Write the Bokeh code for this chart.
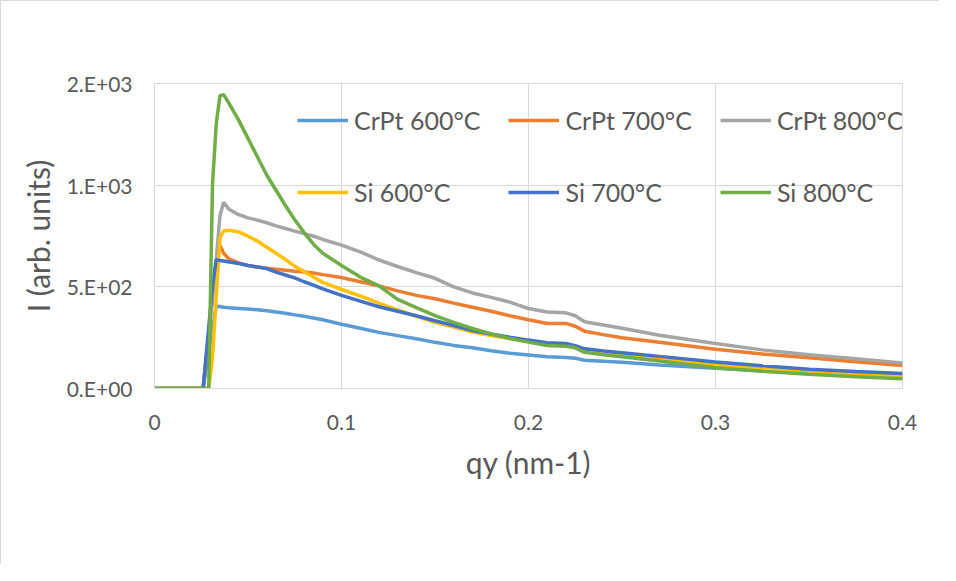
from bokeh.plotting import figure
from bokeh.models import FixedTicker, Legend, LegendItem, Range1d
from bokeh.embed import file_html
from bokeh.resources import INLINE

# ---- data ----
q = [0, 0.01, 0.02, 0.026, 0.029, 0.031, 0.033, 0.035, 0.037, 0.04,
     0.045, 0.05, 0.055, 0.06, 0.065, 0.07, 0.075, 0.08, 0.085, 0.09,
     0.1, 0.11, 0.12, 0.13, 0.14, 0.15, 0.16, 0.17, 0.18, 0.19,
     0.2, 0.21, 0.22, 0.225, 0.23, 0.24, 0.25, 0.27, 0.3, 0.325,
     0.35, 0.375, 0.4]

crpt_600 = [0, 0, 0, 0, 177, 296, 405, 403, 400, 397,
            394, 391, 387, 382, 376, 370, 362, 355, 347, 338,
            316, 296, 276, 260, 245, 227, 212, 200, 186, 173,
            165, 156, 152, 149, 139, 134, 129, 116, 100, 87,
            75, 64, 54]
crpt_700 = [0, 0, 0, 0, 265, 443, 620, 703, 665, 636,
            618, 605, 597, 592, 586, 582, 577, 573, 568, 560,
            546, 525, 505, 480, 458, 441, 420, 400, 380, 358,
            338, 320, 320, 306, 282, 265, 250, 228, 193, 170,
            151, 132, 113]
crpt_800 = [0, 0, 0, 0, 270, 450, 630, 850, 916, 880,
            855, 839, 828, 815, 800, 787, 774, 762, 749, 733,
            705, 672, 632, 600, 570, 542, 500, 470, 448, 425,
            393, 376, 372, 358, 328, 312, 296, 262, 221, 190,
            166, 146, 126]
si_600 = [0, 0, 0, 0, 0, 150, 450, 740, 775, 778,
          770, 749, 725, 695, 665, 635, 601, 575, 548, 522,
          488, 455, 420, 387, 355, 325, 302, 278, 260, 246,
          232, 220, 212, 205, 188, 175, 164, 145, 116, 97,
          81, 70, 61]
si_700 = [0, 0, 0, 0, 300, 500, 634, 630, 627, 622,
          615, 605, 598, 590, 572, 558, 544, 525, 508, 490,
          458, 430, 402, 380, 358, 333, 310, 285, 268, 252,
          238, 225, 221, 211, 195, 185, 176, 158, 130, 112,
          95, 84, 74]
si_800 = [0, 0, 0, 0, 0, 1000, 1300, 1440, 1445, 1400,
          1320, 1230, 1140, 1050, 975, 900, 830, 767, 710, 665,
          605, 548, 505, 438, 398, 358, 325, 295, 268, 246,
          228, 211, 208, 200, 178, 166, 156, 135, 102, 85,
          70, 58, 48]

series_names = ["CrPt 600°C", "CrPt 700°C", "CrPt 800°C", "Si 600°C", "Si 700°C", "Si 800°C"]
series_values = [crpt_600, crpt_700, crpt_800, si_600, si_700, si_800]
series_colors = ["#5B9BD5", "#ED7D31", "#A5A5A5", "#FFC000", "#4472C4", "#70AD47"]

x_ticks = [0, 0.1, 0.2, 0.3, 0.4]
x_tick_labels = ["0", "0.1", "0.2", "0.3", "0.4"]
y_ticks = [0, 500, 1000, 1500]
y_tick_labels = ["0.E+00", "5.E+02", "1.E+03", "2.E+03"]

FONT = "Lato"
TEXT = "#595959"
GRID = "#D9D9D9"

p = figure(width=939, height=564, output_backend="svg", toolbar_location=None,
           x_range=Range1d(0, 0.4), y_range=Range1d(0, 1500),
           min_border_left=153, min_border_right=38, min_border_top=82,
           min_border_bottom=177)
p.styles = {"border-left": "1px solid #D9D9D9", "border-top": "1px solid #D9D9D9"}
p.outline_line_color = GRID
p.background_fill_color = "white"
p.border_fill_color = "white"

renderers = []
for name, vals, col in zip(series_names, series_values, series_colors):
    r = p.line(q, vals, line_color=col, line_width=3.5)
    renderers.append(r)

# axes
p.xaxis.ticker = FixedTicker(ticks=x_ticks)
p.xaxis.major_label_overrides = {t: l for t, l in zip(x_ticks, x_tick_labels)}
p.yaxis.ticker = FixedTicker(ticks=y_ticks)
p.yaxis.major_label_overrides = {t: l for t, l in zip(y_ticks, y_tick_labels)}
for ax in (p.xaxis[0], p.yaxis[0]):
    ax.axis_line_color = GRID
    ax.major_tick_line_color = None
    ax.minor_tick_line_color = None
    ax.major_label_text_font = FONT
    ax.major_label_text_font_size = "21px"
    ax.major_label_text_color = TEXT
    ax.axis_label_text_font = FONT
    ax.axis_label_text_font_size = "30px"
    ax.axis_label_text_color = TEXT
    ax.axis_label_text_font_style = "normal"
p.xaxis.axis_label = "qy (nm-1)"
p.yaxis.axis_label = "I (arb. units)"
p.xaxis.major_label_standoff = 20
p.yaxis.major_label_standoff = 16
p.xaxis.axis_label_standoff = 11
p.yaxis.axis_label_standoff = 8

p.xgrid.ticker = FixedTicker(ticks=x_ticks)
p.ygrid.ticker = FixedTicker(ticks=y_ticks)
p.grid.grid_line_color = GRID
p.grid.grid_line_width = 1

items = [LegendItem(label=n, renderers=[r]) for n, r in zip(series_names, renderers)]
legend = Legend(items=items, location=(143, 174), orientation="horizontal", ncols=3,
                glyph_width=51, glyph_height=44, label_height=44, label_standoff=6,
                spacing=28, padding=0, margin=0,
                label_text_font=FONT, label_text_font_size="25px", label_text_color=TEXT,
                background_fill_alpha=0, border_line_color=None)
p.add_layout(legend)

open("out.html", "w").write(file_html(p, INLINE))
